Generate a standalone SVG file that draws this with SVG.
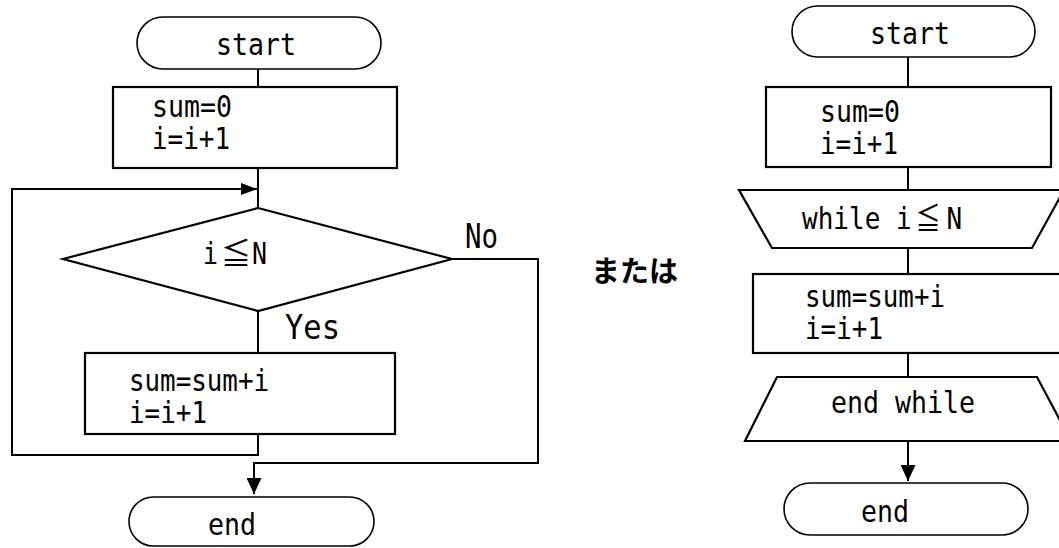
<svg xmlns="http://www.w3.org/2000/svg" width="1059" height="548" viewBox="0 0 1059 548">
<defs>
<style>
.bg{fill:#ffffff}
.term{fill:#ffffff;stroke:#000;stroke-width:1.6}
.box{fill:#ffffff;stroke:#000;stroke-width:2.2}
.ln{fill:none;stroke:#000;stroke-width:2}
.t{font-family:"DejaVu Sans Mono","Noto Sans CJK JP",monospace;font-size:31px;fill:#000}
.m{font-size:30px}
.big{font-size:34px}
.cjk{font-family:"Noto Sans CJK JP",sans-serif;font-size:30px}
.jp{font-family:"Noto Sans CJK JP","Noto Sans",sans-serif;font-size:29px;font-weight:bold;fill:#000}
</style>
<marker id="arr" viewBox="0 0 16 15" refX="16" refY="7.5" markerWidth="16" markerHeight="15" markerUnits="userSpaceOnUse" orient="auto">
<path d="M0,0 L16,7.5 L0,15 z" fill="#000"/>
</marker>
<marker id="arrs" viewBox="0 0 16 12" refX="16" refY="6" markerWidth="16" markerHeight="12" markerUnits="userSpaceOnUse" orient="auto">
<path d="M0,0 L16,6 L0,12 z" fill="#000"/>
</marker>
</defs>
<rect class="bg" x="0" y="0" width="1059" height="548"/>

<g id="connectors">
<line class="ln" x1="258" y1="69" x2="258" y2="87"/>
<line class="ln" x1="258" y1="168" x2="258" y2="208"/>
<line class="ln" x1="258" y1="311" x2="258" y2="353"/>
<path class="ln" d="M258,434 V455 H12 V189 H257" marker-end="url(#arrs)"/>
<path class="ln" d="M452,259 H538 V463 H254 V494" marker-end="url(#arr)"/>
<line class="ln" x1="908" y1="57" x2="908" y2="87"/>
<line class="ln" x1="908" y1="167" x2="908" y2="190"/>
<line class="ln" x1="908" y1="248" x2="908" y2="274"/>
<line class="ln" x1="908" y1="353" x2="908" y2="377"/>
<path class="ln" d="M908,441 V481" marker-end="url(#arr)"/>
</g>

<g id="L-start">
<rect class="term" x="137" y="17" width="244" height="52" rx="26" ry="26"/>
<text class="t" x="216" y="55" textLength="80" lengthAdjust="spacingAndGlyphs">start</text>
</g>
<g id="L-init">
<rect class="box" x="113" y="87" width="284" height="81"/>
<text class="t m" x="152" y="117" textLength="80" lengthAdjust="spacingAndGlyphs">sum=0</text>
<text class="t m" x="152" y="149" textLength="78" lengthAdjust="spacingAndGlyphs">i=i+1</text>
</g>
<g id="L-cond">
<polygon class="box" points="258,208 452,259 258,311 63,259"/>
<text class="t" x="203" y="264"><tspan textLength="15" lengthAdjust="spacingAndGlyphs">i</tspan><tspan class="cjk" x="221">≦</tspan><tspan x="252" textLength="15" lengthAdjust="spacingAndGlyphs">N</tspan></text>
<text class="t big" x="465" y="248" textLength="33" lengthAdjust="spacingAndGlyphs">No</text>
<text class="t big" x="285" y="339" textLength="55" lengthAdjust="spacingAndGlyphs">Yes</text>
</g>
<g id="L-body">
<rect class="box" x="85" y="353" width="310" height="81"/>
<text class="t m" x="129" y="391" textLength="140" lengthAdjust="spacingAndGlyphs">sum=sum+i</text>
<text class="t m" x="129" y="423" textLength="78" lengthAdjust="spacingAndGlyphs">i=i+1</text>
</g>
<g id="L-end">
<rect class="term" x="129" y="497" width="245" height="49" rx="24.5" ry="24.5"/>
<text class="t" x="208" y="535" textLength="48" lengthAdjust="spacingAndGlyphs">end</text>
</g>

<g id="or-label">
<text class="jp" x="591" y="282">または</text>
</g>

<g id="R-start">
<rect class="term" x="792" y="6" width="243" height="51" rx="25.5" ry="25.5"/>
<text class="t" x="870" y="44" textLength="80" lengthAdjust="spacingAndGlyphs">start</text>
</g>
<g id="R-init">
<rect class="box" x="766" y="87" width="285" height="80"/>
<text class="t m" x="820" y="122" textLength="80" lengthAdjust="spacingAndGlyphs">sum=0</text>
<text class="t m" x="820" y="154" textLength="78" lengthAdjust="spacingAndGlyphs">i=i+1</text>
</g>
<g id="R-while">
<polygon class="box" points="739,190 1064,190 1032,248 772,248"/>
<text class="t" transform="translate(802 229) scale(0.84 1)" x="0" y="0">while i<tspan class="cjk" x="135">≦</tspan><tspan x="172">N</tspan></text>
</g>
<g id="R-body">
<rect class="box" x="753" y="274" width="311" height="79"/>
<text class="t m" x="805" y="307" textLength="140" lengthAdjust="spacingAndGlyphs">sum=sum+i</text>
<text class="t m" x="805" y="339" textLength="78" lengthAdjust="spacingAndGlyphs">i=i+1</text>
</g>
<g id="R-endwhile">
<polygon class="box" points="777,377 1037,377 1071,441 745,441"/>
<text class="t" x="831" y="413" textLength="144" lengthAdjust="spacingAndGlyphs">end while</text>
</g>
<g id="R-end">
<rect class="term" x="784" y="483" width="244" height="52" rx="26" ry="26"/>
<text class="t" x="861" y="522" textLength="48" lengthAdjust="spacingAndGlyphs">end</text>
</g>
</svg>
